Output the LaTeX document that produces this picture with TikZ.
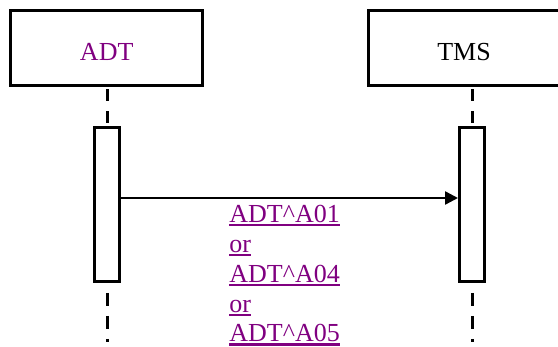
\documentclass[tikz,border=0pt]{standalone}
\usepackage{fontspec}
\setmainfont{Liberation Serif}
\usetikzlibrary{arrows.meta}
\definecolor{linkpurple}{HTML}{800080}

%% underlined message text
\newsavebox{\msgbox}
\newcommand{\msgul}[1]{\sbox{\msgbox}{#1}\rlap{\rule[-1.85pt]{\wd\msgbox}{1.1pt}}\usebox{\msgbox}}

\begin{document}
\begin{tikzpicture}[x=0.5pt,y=-0.5pt,
    actor/.style={draw, line width=1.5pt, minimum width=96pt, minimum height=37.5pt,
        inner sep=0pt, text height=13pt, text depth=0pt, font=\fontsize{13}{15}\selectfont},
    activation/.style={draw, fill=white, line width=1.5pt, minimum width=12.5pt,
        minimum height=77pt, inner sep=0pt},
    lifeline/.style={line width=1.5pt, dash pattern=on 6pt off 5pt},
    msg/.style={line width=1.25pt, -{Triangle[length=6.5pt,width=6.5pt]}},
    msglabel/.style={inner sep=0pt, align=left, text=linkpurple,
        font=\fontsize{13}{14.9}\selectfont}]
    %% define points
    \def\msgy{198};

    %% canvas
    \useasboundingbox (0,0) rectangle (558,347);
    \clip (0,0) rectangle (558,347);

    %% actors
    \node[actor, text=linkpurple] (adt) at (106.7,48) {ADT};
    \node[actor] (tms) at (464,48) {TMS};

    %% activations
    \node[activation] (adtact) at (107.2,204.3) {};
    \node[activation] (tmsact) at (472,204.3) {};
    \coordinate (adtend) at (107.2,342);
    \coordinate (tmsend) at (472,342);

    %% lifelines
    \draw[lifeline, dash phase=9.75pt] (adt.south -| adtact) -- (adtact.north);
    \draw[lifeline, dash phase=9.75pt] (tms.south -| tmsact) -- (tmsact.north);
    \draw[lifeline, dash pattern=on 6.5pt off 5pt, dash phase=6.5pt] (adtact.south) -- (adtend);
    \draw[lifeline, dash pattern=on 6.5pt off 5pt, dash phase=6.5pt] (tmsact.south) -- (tmsend);

    %% message
    \draw[msg] (adtact.east |- 0,\msgy) -- (tmsact.west |- 0,\msgy);
    \node[msglabel, anchor=north west] (msgtxt) at (229,205)
        {\msgul{ADT\textasciicircum A01}\\ \msgul{or}\\ \msgul{ADT\textasciicircum A04}\\
         \msgul{or}\\ \msgul{ADT\textasciicircum A05}};
\end{tikzpicture}
\end{document}
